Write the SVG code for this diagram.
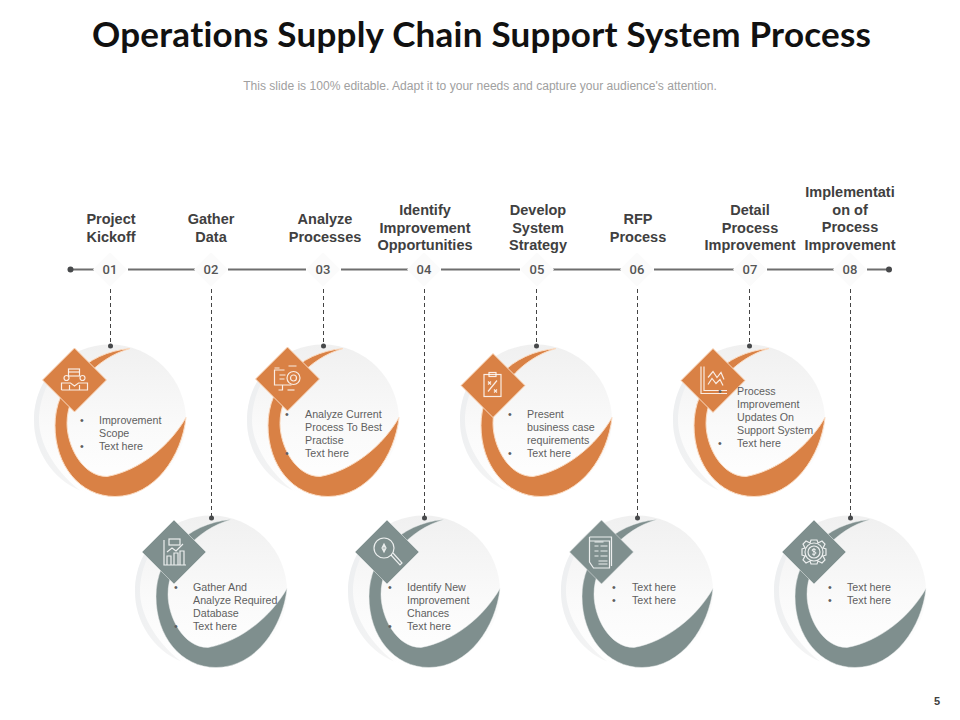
<svg xmlns="http://www.w3.org/2000/svg" xmlns:xlink="http://www.w3.org/1999/xlink" width="960" height="720" viewBox="0 0 960 720">
<style>
text{font-family:"Liberation Sans",Arial,sans-serif}
.h{font-family:Lato,"Liberation Sans",sans-serif;font-size:35px;font-weight:700;fill:#111;text-anchor:middle;font-variant-ligatures:none}
.sub{font-size:12.07px;fill:#a0a0a0;text-anchor:middle}
.t{font-size:14.5px;font-weight:700;fill:#404040;text-anchor:middle}
.n{font-family:Roboto,"Liberation Sans",sans-serif;font-size:13px;font-weight:500;fill:#555;text-anchor:middle}
.b{font-size:10.7px;fill:#5f5f5f}
.tl{stroke:#6e6e6e;stroke-width:2;fill:none}
.d{stroke:#444;stroke-width:1;stroke-dasharray:4 3;fill:none}
.dot{fill:#47494b}
.o{fill:#d98145;stroke:#fbdcc3;stroke-width:1}
.g{fill:#7f8f8e;stroke:#eef1f1;stroke-width:.5}
.i{fill:none;stroke:#fff;stroke-opacity:.85;stroke-width:1.2}
.hl{fill:#fbfbfb}
</style>
<defs>
<linearGradient id="cg" x1="0" y1="0" x2="0" y2="1"><stop offset="0" stop-color="#f0f0f0"/><stop offset=".55" stop-color="#fafafa"/><stop offset="1" stop-color="#ffffff"/></linearGradient>
<linearGradient id="cr" x1="0" y1="0" x2="1" y2="1"><stop offset="0" stop-color="#eceef0"/><stop offset="1" stop-color="#f5f5f5"/></linearGradient>
<g id="disc"><circle r="76" fill="url(#cg)"/><path d="M-40,-65C-65,-50-76,-25-76,0C-76,30-58,58-30,70C-58,48-71,20-71,0C-71,-25-58,-50-40,-65Z" fill="url(#cr)"/></g>
<path id="sw" d="M20,-72C-25,-68-55,-35-55,5C-55,45-30,76 5,76C45,76 72,35 76,-3C60,25 30,50-3,56C-28,56-43,25-43,3C-43,-30-15,-62 20,-72Z"/>
<path id="dm" d="M0,-32L32,0L0,32L-32,0Z"/>
<path id="hd" d="M0,-17L17,0L0,17L-17,0Z"/>
</defs>
<rect width="960" height="720" fill="#fff"/>
<text class="h" x="481.500" y="47" textLength="779" lengthAdjust="spacing">Operations Supply Chain Support System Process</text>
<text class="sub" x="480" y="90">This slide is 100% editable. Adapt it to your needs and capture your audience's attention.</text>
<g id="timeline" class="tl"><path d="M71,269.500H94M128,269.500H195M228,269.500H306M341,269.500H408M441,269.500H520M553,269.500H621M654,269.500H734M767,269.500H834M867,269.500H889"/></g>
<g id="disc-layer">
<use xlink:href="#disc" href="#disc" x="110" y="420.500"/><use href="#disc" xlink:href="#disc" x="323" y="420.500"/><use href="#disc" xlink:href="#disc" x="536" y="420.500"/><use href="#disc" xlink:href="#disc" x="749" y="420.500"/>
<use href="#disc" xlink:href="#disc" x="211" y="591.500"/><use href="#disc" xlink:href="#disc" x="424" y="591.500"/><use href="#disc" xlink:href="#disc" x="637" y="591.500"/><use href="#disc" xlink:href="#disc" x="850" y="591.500"/>
</g>
<g id="connectors">
<path class="d" d="M110.500,289V346M211.500,289V518M323.500,289V346M424.500,289V518M536.500,289V346M637.500,289V518M749.500,289V346M850.500,289V518"/>
<circle class="dot" cx="70.500" cy="269.500" r="3"/><circle class="dot" cx="889" cy="269.500" r="3"/>
<circle class="dot" cx="110.500" cy="346" r="2.500"/><circle class="dot" cx="211.500" cy="518" r="2.500"/><circle class="dot" cx="323.500" cy="346" r="2.500"/><circle class="dot" cx="424.500" cy="518" r="2.500"/><circle class="dot" cx="536.500" cy="346" r="2.500"/><circle class="dot" cx="637.500" cy="518" r="2.500"/><circle class="dot" cx="749.500" cy="346" r="2.500"/><circle class="dot" cx="850.500" cy="518" r="2.500"/>
</g>
<g id="node1">
<text class="t"><tspan x="111" y="224">Project</tspan><tspan x="111" y="242">Kickoff</tspan></text><use href="#hd" xlink:href="#hd" class="hl" x="110" y="269.500"/><text class="n" x="110" y="274">01</text>
<use href="#sw" xlink:href="#sw" class="o" x="110" y="420.500"/><use href="#dm" xlink:href="#dm" class="o" x="74.500" y="380"/>
<g class="i" transform="translate(74.500,380)"><rect x="-6" y="-11" width="11" height="7"/><path d="M-6,-8H5"/><circle cx="-8" cy="-2" r="2.500"/><circle cx="8" cy="-2" r="2.500"/><path d="M-13,10V3H-4L0,6L4,3H13V10H-13M-5,10V5M5,10V5"/></g>
<text class="b"><tspan x="80" y="424">•</tspan><tspan x="99" y="424">Improvement</tspan><tspan x="99" y="437">Scope</tspan><tspan x="80" y="450">•</tspan><tspan x="99" y="450">Text here</tspan></text>
</g>
<g id="node2">
<text class="t"><tspan x="211" y="224">Gather</tspan><tspan x="211" y="242">Data</tspan></text><use href="#hd" xlink:href="#hd" class="hl" x="211" y="269.500"/><text class="n" x="211" y="274">02</text>
<use href="#sw" xlink:href="#sw" class="g" x="211" y="591.500"/><use href="#dm" xlink:href="#dm" class="g" x="174" y="552"/>
<g class="i" transform="translate(174,552)"><path d="M-10,-12V13H12M-7,13V4H-3V13M0,13V1H4V13M6,13V-1H10V13"/><rect x="-5" y="-13" width="11" height="6"/><path d="M-7,0L-2,-4L2,-1L9,-8"/></g>
<text class="b"><tspan x="174" y="591">•</tspan><tspan x="193" y="591">Gather And</tspan><tspan x="193" y="604">Analyze Required</tspan><tspan x="193" y="617">Database</tspan><tspan x="174" y="630">•</tspan><tspan x="193" y="630">Text here</tspan></text>
</g>
<g id="node3">
<text class="t"><tspan x="325" y="224">Analyze</tspan><tspan x="325" y="242">Processes</tspan></text><use href="#hd" xlink:href="#hd" class="hl" x="323" y="269.500"/><text class="n" x="323" y="274">03</text>
<use href="#sw" xlink:href="#sw" class="o" x="323" y="420.500"/><use href="#dm" xlink:href="#dm" class="o" x="287.500" y="379"/>
<g class="i" transform="translate(287.500,379)"><path d="M-3,-9H-13V6H4M-5,6V11H-9M-13,-11H-8M1,-13H9"/><circle cx="6" cy="-1" r="6.500"/><circle cx="6" cy="-1" r="3"/><path d="M-8,-4H-2M-8,0H-3"/><path d="M0,11H7"/></g>
<text class="b"><tspan x="285" y="418">•</tspan><tspan x="305" y="418">Analyze Current</tspan><tspan x="305" y="431">Process To Best</tspan><tspan x="305" y="444">Practise</tspan><tspan x="285" y="457">•</tspan><tspan x="305" y="457">Text here</tspan></text>
</g>
<g id="node4">
<text class="t"><tspan x="425" y="215">Identify</tspan><tspan x="425" y="233">Improvement</tspan><tspan x="425" y="250">Opportunities</tspan></text><use href="#hd" xlink:href="#hd" class="hl" x="424" y="269.500"/><text class="n" x="424" y="274">04</text>
<use href="#sw" xlink:href="#sw" class="g" x="424" y="591.500"/><use href="#dm" xlink:href="#dm" class="g" x="387" y="552"/>
<g class="i" transform="translate(387,552)"><circle cx="-3" cy="-4" r="10"/><path d="M4,3L13,13L15,11L6,1"/><path d="M-3,-8V0M-5,-4L-3,-8L-1,-4L-3,0Z"/></g>
<text class="b"><tspan x="388" y="591">•</tspan><tspan x="407" y="591">Identify New</tspan><tspan x="407" y="604">Improvement</tspan><tspan x="407" y="617">Chances</tspan><tspan x="388" y="630">•</tspan><tspan x="407" y="630">Text here</tspan></text>
</g>
<g id="node5">
<text class="t"><tspan x="538" y="215">Develop</tspan><tspan x="538" y="233">System</tspan><tspan x="538" y="250">Strategy</tspan></text><use href="#hd" xlink:href="#hd" class="hl" x="537" y="269.500"/><text class="n" x="537" y="274">05</text>
<use href="#sw" xlink:href="#sw" class="o" x="536" y="420.500"/><use href="#dm" xlink:href="#dm" class="o" x="493" y="385.500"/>
<g class="i" transform="translate(493,385.500)"><rect x="-9" y="-11" width="17" height="22"/><rect x="-4" y="-13" width="7" height="4"/><path d="M-5,6L4,-5M-5,-4L-2,-1M-2,-4L-5,-1M1,4L4,7M4,4L1,7"/></g>
<text class="b"><tspan x="508" y="418">•</tspan><tspan x="527" y="418">Present</tspan><tspan x="527" y="431">business case</tspan><tspan x="527" y="444">requirements</tspan><tspan x="508" y="457">•</tspan><tspan x="527" y="457">Text here</tspan></text>
</g>
<g id="node6">
<text class="t"><tspan x="638" y="224">RFP</tspan><tspan x="638" y="242">Process</tspan></text><use href="#hd" xlink:href="#hd" class="hl" x="637" y="269.500"/><text class="n" x="637" y="274">06</text>
<use href="#sw" xlink:href="#sw" class="g" x="637" y="591.500"/><use href="#dm" xlink:href="#dm" class="g" x="601.500" y="552"/>
<g class="i" transform="translate(601.500,552)"><path d="M-12,-15H10V14M-12,-15V10L-8,16H8V-11H-12"/><path d="M-7,-10H2M-7,-6H-3M-1,-6H6M-7,-1H-3M-1,-1H6M-7,4H-3M-1,4H6M-3,9H6M-3,12H6"/></g>
<text class="b"><tspan x="612" y="591">•</tspan><tspan x="632" y="591">Text here</tspan><tspan x="612" y="604">•</tspan><tspan x="632" y="604">Text here</tspan></text>
</g>
<g id="node7">
<text class="t"><tspan x="750" y="215">Detail</tspan><tspan x="750" y="233">Process</tspan><tspan x="750" y="250">Improvement</tspan></text><use href="#hd" xlink:href="#hd" class="hl" x="750" y="269.500"/><text class="n" x="750" y="274">07</text>
<use href="#sw" xlink:href="#sw" class="o" x="749" y="420.500"/><use href="#dm" xlink:href="#dm" class="o" x="713" y="380.500"/>
<g class="i" transform="translate(713,380.500)"><path d="M-12,-14V13H14M-9,-14V10H14"/><path d="M-5,-3L0,-9L4,-3L8,-8L11,-1M-5,4L-1,-2L3,3L7,-1L10,5"/></g>
<text class="b"><tspan x="718" y="395">•</tspan><tspan x="737" y="395">Process</tspan><tspan x="737" y="408">Improvement</tspan><tspan x="737" y="421">Updates On</tspan><tspan x="737" y="434">Support System</tspan><tspan x="718" y="447">•</tspan><tspan x="737" y="447">Text here</tspan></text>
</g>
<g id="node8">
<text class="t"><tspan x="850" y="197">Implementati</tspan><tspan x="850" y="215">on of</tspan><tspan x="850" y="232">Process</tspan><tspan x="850" y="250">Improvement</tspan></text><use href="#hd" xlink:href="#hd" class="hl" x="850" y="269.500"/><text class="n" x="850" y="274">08</text>
<use href="#sw" xlink:href="#sw" class="g" x="850" y="591.500"/><use href="#dm" xlink:href="#dm" class="g" x="814" y="552"/>
<g class="i" transform="translate(814,552)"><circle r="6"/><circle r="9"/><path d="M-2,2C0,3 2,2 2,1C2,-1-2,0-2,-2C-2,-3 0,-3 2,-2M0,-4V4" stroke-width="1"/><path d="M-3,-12H3L4,-9L8,-11L11,-8L9,-4L12,-3V3L9,4L11,8L8,11L4,9L3,12H-3L-4,9L-8,11L-11,8L-9,4L-12,3V-3L-9,-4L-11,-8L-8,-11L-4,-9Z"/></g>
<text class="b"><tspan x="828" y="591">•</tspan><tspan x="847" y="591">Text here</tspan><tspan x="828" y="604">•</tspan><tspan x="847" y="604">Text here</tspan></text>
</g>
<text x="937" y="705" font-size="11" font-weight="700" fill="#404040" text-anchor="middle">5</text>
</svg>
